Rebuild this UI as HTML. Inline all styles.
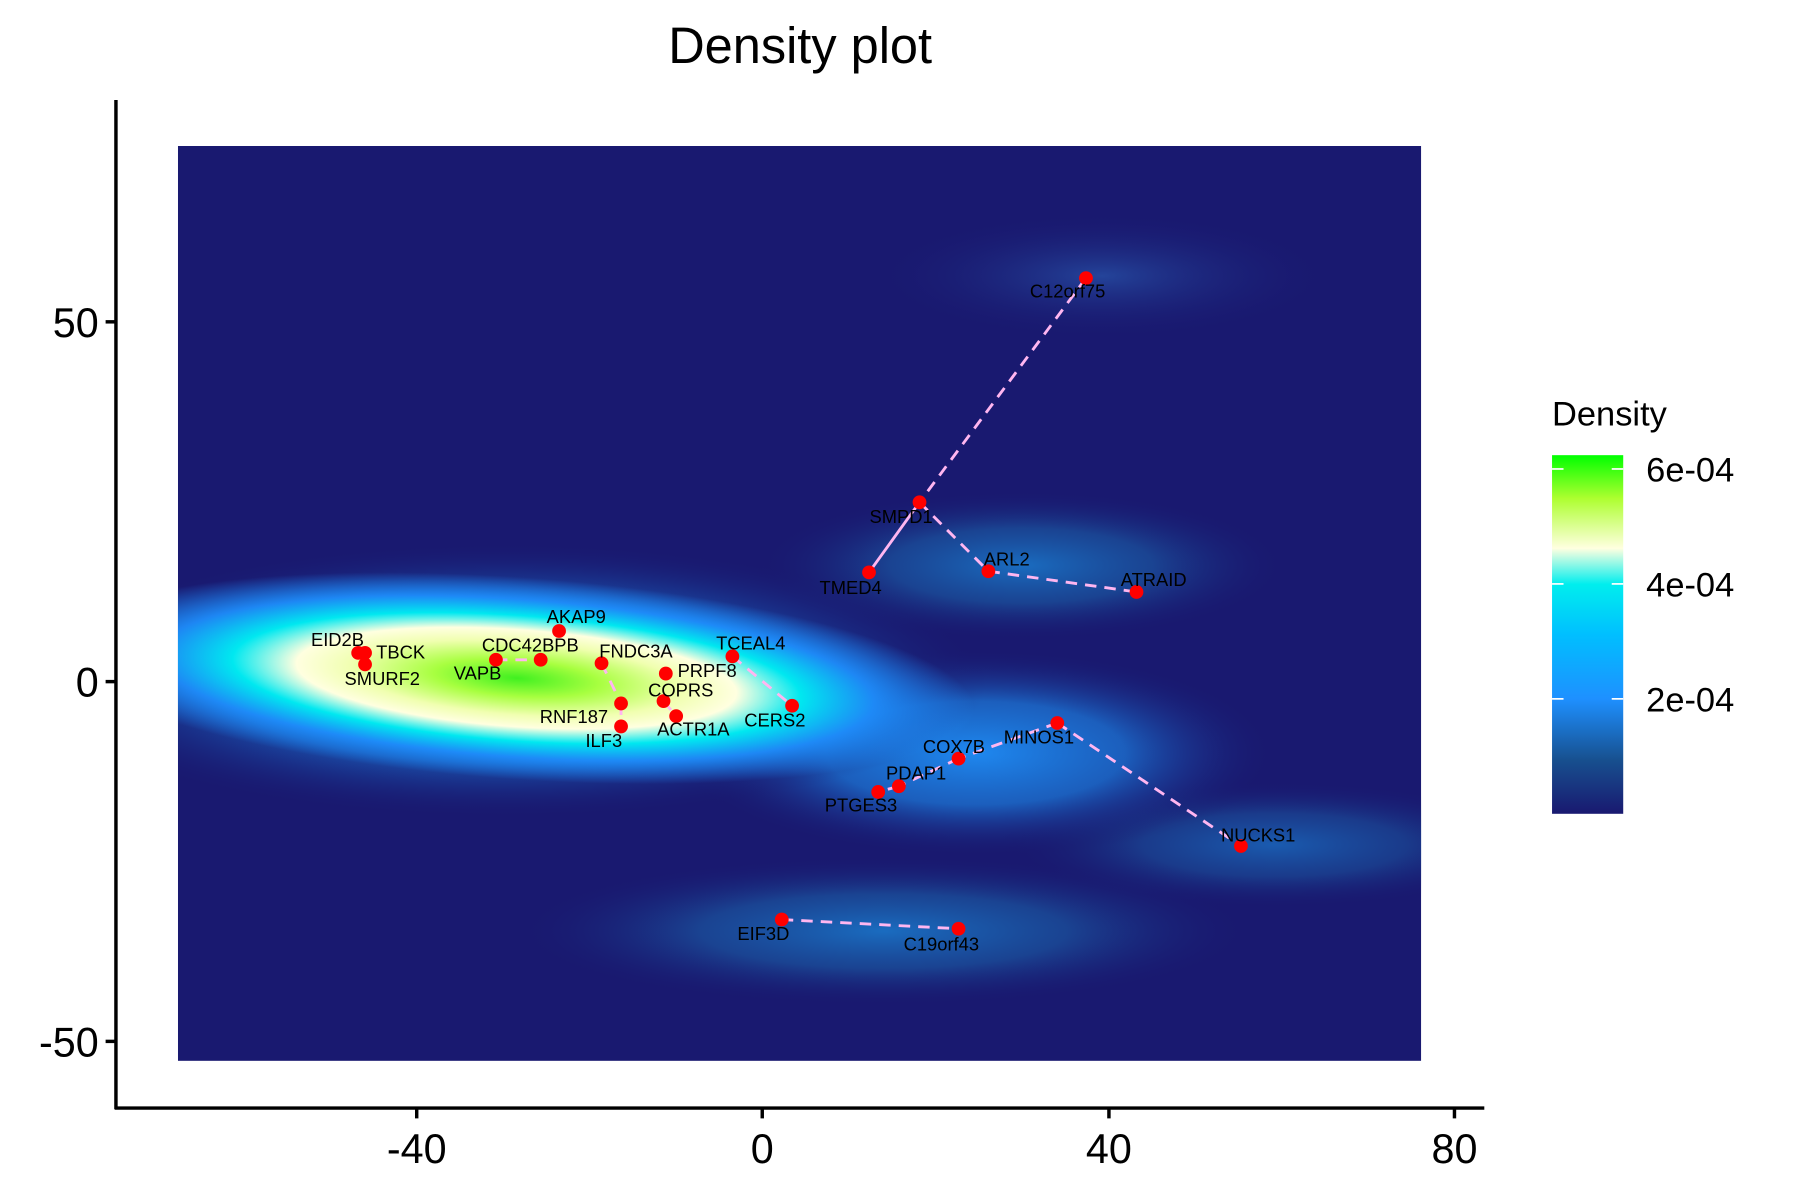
<!DOCTYPE html>
<html><head><meta charset="utf-8"><style>
html,body{margin:0;padding:0;background:#fff;}
svg{display:block;}
text{font-family:"Liberation Sans",sans-serif;}
</style></head><body>
<svg width="1800" height="1200" viewBox="0 0 1568 1044" preserveAspectRatio="none" xmlns="http://www.w3.org/2000/svg">
<defs>
<clipPath id="cp"><rect x="155" y="127" width="1083" height="796"/></clipPath>
<radialGradient id="gm">
<stop offset="0" stop-color="#40F020"/>
<stop offset="0.18" stop-color="#A8FF40"/>
<stop offset="0.36" stop-color="#F0FFB0"/>
<stop offset="0.48" stop-color="#FFFFE0"/>
<stop offset="0.62" stop-color="#00E8F0"/>
<stop offset="0.78" stop-color="#1E90FF" stop-opacity="0.9"/>
<stop offset="1" stop-color="#1E90FF" stop-opacity="0"/>
</radialGradient>
<radialGradient id="gh">
<stop offset="0" stop-color="#1E90FF"/>
<stop offset="0.6" stop-color="#1a6ac8" stop-opacity="0.7"/>
<stop offset="1" stop-color="#191970" stop-opacity="0"/>
</radialGradient>
<radialGradient id="gb">
<stop offset="0" stop-color="#1E88F0"/>
<stop offset="0.5" stop-color="#1c70d0" stop-opacity="0.8"/>
<stop offset="1" stop-color="#191970" stop-opacity="0"/>
</radialGradient>
<radialGradient id="gd">
<stop offset="0" stop-color="#1a6cc0"/>
<stop offset="0.5" stop-color="#1a55a0" stop-opacity="0.7"/>
<stop offset="1" stop-color="#191970" stop-opacity="0"/>
</radialGradient>
<radialGradient id="gf">
<stop offset="0" stop-color="#24449a"/>
<stop offset="1" stop-color="#191970" stop-opacity="0"/>
</radialGradient>
<linearGradient id="lg" x1="0" y1="1" x2="0" y2="0">
<stop offset="0" stop-color="#191970"/>
<stop offset="0.15" stop-color="#17508f"/>
<stop offset="0.32" stop-color="#1E90FF"/>
<stop offset="0.5" stop-color="#00BFFF"/>
<stop offset="0.64" stop-color="#00EEEE"/>
<stop offset="0.74" stop-color="#FFFFE0"/>
<stop offset="0.88" stop-color="#ADFF2F"/>
<stop offset="1" stop-color="#00FF00"/>
</linearGradient>
</defs>
<text x="697" y="55" font-size="44" text-anchor="middle">Density plot</text>
<g clip-path="url(#cp)">
<rect x="155" y="127" width="1083" height="796" fill="#191970"/>
<ellipse cx="960" cy="240" rx="200" ry="55" fill="url(#gf)"/>
<ellipse cx="770" cy="810" rx="320" ry="65" fill="url(#gd)"/>
<ellipse cx="1110" cy="735" rx="230" ry="55" fill="url(#gd)" opacity="0.8"/>
<ellipse cx="890" cy="492" rx="230" ry="65" fill="url(#gd)"/>
<ellipse cx="850" cy="655" rx="260" ry="90" fill="url(#gb)"/>
<ellipse cx="440" cy="592" rx="420" ry="120" fill="url(#gh)"/>
<ellipse cx="450" cy="590" rx="400" ry="88" fill="url(#gm)" transform="rotate(4 450 590)"/>
</g>
<g stroke="#000" stroke-width="3" fill="none">
<line x1="101" y1="87" x2="101" y2="965"/>
<line x1="100" y1="964" x2="1293" y2="964"/>
<line x1="92" y1="280" x2="101" y2="280"/><line x1="92" y1="593" x2="101" y2="593"/><line x1="92" y1="906" x2="101" y2="906"/>
<line x1="363" y1="964" x2="363" y2="973"/><line x1="664" y1="964" x2="664" y2="973"/><line x1="966" y1="964" x2="966" y2="973"/><line x1="1267" y1="964" x2="1267" y2="973"/>
</g>
<g font-size="36" text-anchor="end">
<text x="86" y="293">50</text><text x="86" y="606">0</text><text x="86" y="919">-50</text>
</g>
<g font-size="36" text-anchor="middle">
<text x="363" y="1012">-40</text><text x="664" y="1012">0</text><text x="966" y="1012">40</text><text x="1267" y="1012">80</text>
</g>
<g stroke="#FFB6F0" stroke-width="2.5" fill="none" stroke-dasharray="10,7">
<line x1="946" y1="242" x2="801" y2="437"/>
<line x1="801" y1="437" x2="757" y2="498" stroke-dasharray="none"/>
<line x1="801" y1="437" x2="861" y2="497"/>
<line x1="861" y1="497" x2="990" y2="515"/>
<line x1="921" y1="629" x2="835" y2="660"/>
<line x1="921" y1="629" x2="1081" y2="736"/>
<line x1="835" y1="660" x2="783" y2="684"/>
<line x1="783" y1="684" x2="765" y2="689"/>
<line x1="681" y1="800" x2="835" y2="808"/>
<line x1="432" y1="574" x2="471" y2="574"/>
<line x1="524" y1="577" x2="541" y2="612"/>
<line x1="541" y1="612" x2="541" y2="632"/>
<line x1="638" y1="571" x2="690" y2="614"/>
<line x1="578" y1="610" x2="589" y2="623"/>
</g>
<g fill="#FF0000">
<circle cx="312" cy="568" r="6"/><circle cx="318" cy="568" r="6"/><circle cx="318" cy="578" r="6"/>
<circle cx="432" cy="574" r="6"/><circle cx="471" cy="574" r="6"/><circle cx="487" cy="549" r="6"/>
<circle cx="524" cy="577" r="6"/><circle cx="580" cy="586" r="6"/><circle cx="578" cy="610" r="6"/>
<circle cx="541" cy="612" r="6"/><circle cx="541" cy="632" r="6"/><circle cx="589" cy="623" r="6"/>
<circle cx="638" cy="571" r="6"/><circle cx="690" cy="614" r="6"/><circle cx="946" cy="242" r="6"/>
<circle cx="801" cy="437" r="6"/><circle cx="757" cy="498" r="6"/><circle cx="861" cy="497" r="6"/>
<circle cx="990" cy="515" r="6"/><circle cx="921" cy="629" r="6"/><circle cx="835" cy="660" r="6"/>
<circle cx="783" cy="684" r="6"/><circle cx="765" cy="689" r="6"/><circle cx="1081" cy="736" r="6"/>
<circle cx="681" cy="800" r="6"/><circle cx="835" cy="808" r="6"/>
</g>
<g font-size="16" text-anchor="middle" fill="#000">
<text x="294" y="562">EID2B</text><text x="349" y="573">TBCK</text><text x="333" y="596">SMURF2</text>
<text x="416" y="591">VAPB</text><text x="462" y="567">CDC42BPB</text><text x="502" y="542">AKAP9</text>
<text x="554" y="572">FNDC3A</text><text x="616" y="589">PRPF8</text><text x="593" y="606">COPRS</text>
<text x="500" y="629">RNF187</text><text x="526" y="650">ILF3</text><text x="604" y="640">ACTR1A</text>
<text x="654" y="565">TCEAL4</text><text x="675" y="632">CERS2</text><text x="930" y="259">C12orf75</text>
<text x="785" y="455">SMPD1</text><text x="741" y="517">TMED4</text><text x="877" y="492">ARL2</text>
<text x="1005" y="510">ATRAID</text><text x="905" y="647">MINOS1</text><text x="831" y="655">COX7B</text>
<text x="798" y="678">PDAP1</text><text x="750" y="706">PTGES3</text><text x="1096" y="732">NUCKS1</text>
<text x="665" y="818">EIF3D</text><text x="820" y="827">C19orf43</text>
</g>
<text x="1352" y="370" font-size="30">Density</text>
<rect x="1352" y="396" width="62" height="312" fill="url(#lg)"/>
<g stroke="#fff" stroke-width="1.5">
<line x1="1352" y1="408" x2="1362" y2="408"/><line x1="1404" y1="408" x2="1414" y2="408"/>
<line x1="1352" y1="508" x2="1362" y2="508"/><line x1="1404" y1="508" x2="1414" y2="508"/>
<line x1="1352" y1="608" x2="1362" y2="608"/><line x1="1404" y1="608" x2="1414" y2="608"/>
</g>
<g font-size="30">
<text x="1434" y="419">6e-04</text><text x="1434" y="519">4e-04</text><text x="1434" y="619">2e-04</text>
</g>
</svg>
</body></html>
